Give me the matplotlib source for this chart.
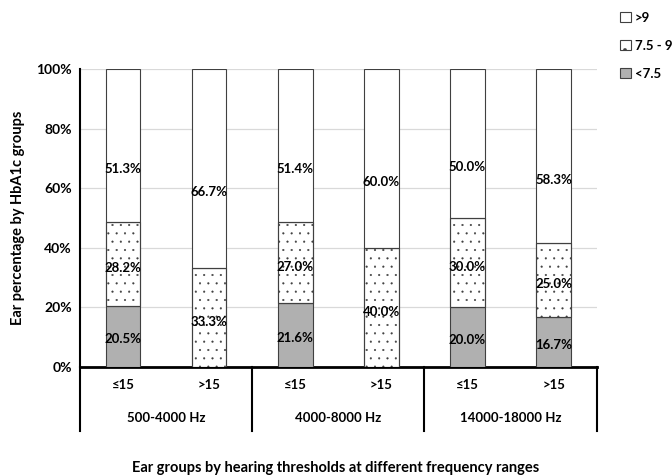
import matplotlib
matplotlib.use("Agg")
import matplotlib.pyplot as plt
from matplotlib.patches import Patch
import numpy as np

plt.rcParams['font.family'] = ['Lato', 'DejaVu Sans']
plt.rcParams['hatch.linewidth'] = 0.3
plt.rcParams['hatch.color'] = '#111111'

groups = ["500-4000 Hz", "4000-8000 Hz", "14000-18000 Hz"]
subcats = ["≤15", ">15", "≤15", ">15", "≤15", ">15"]
low = [20.5, 0.0, 21.6, 0.0, 20.0, 16.7]      # <7.5
mid = [28.2, 33.3, 27.0, 40.0, 30.0, 25.0]    # 7.5 - 9
high = [51.3, 66.7, 51.4, 60.0, 50.0, 58.3]   # >9

fig = plt.figure(figsize=(6.72, 4.75), dpi=100)
ax = fig.add_axes([0.119, 0.2274, 0.769, 0.6273])

x = np.arange(len(subcats))
w = 0.4
low_a = np.array(low); mid_a = np.array(mid); high_a = np.array(high)
edge = '#404040'
ax.bar(x, low_a, w, color='#b0b0b0', edgecolor=edge, linewidth=0.8, zorder=3)
ax.bar(x, mid_a, w, bottom=low_a, color='white', edgecolor=edge, linewidth=0.8, hatch='..', zorder=3)
ax.bar(x, high_a, w, bottom=low_a + mid_a, color='white', edgecolor=edge, linewidth=0.8, zorder=3)
ax.bar(x, mid_a, w, bottom=low_a, fill=False, edgecolor=edge, linewidth=0.8, zorder=4)

for i in range(len(x)):
    if low[i] > 0:
        ax.text(x[i], low[i] / 2 - 1, f"{low[i]:.1f}%", ha='center', va='center', fontsize=9.5, fontweight='bold', zorder=5)
    ax.text(x[i], low[i] + mid[i] / 2 - 1.5, f"{mid[i]:.1f}%", ha='center', va='center', fontsize=9.5, fontweight='bold', zorder=5)
    ax.text(x[i], low[i] + mid[i] + high[i] / 2 - 8, f"{high[i]:.1f}%", ha='center', va='center', fontsize=9.5, fontweight='bold', zorder=5)

ax.set_xlim(-0.5, len(x) - 0.5)
ax.set_ylim(0, 100)
ax.set_yticks(np.arange(0, 101, 20))
ax.set_yticklabels([f"{v}%" for v in range(0, 101, 20)], fontsize=10, fontweight='bold')
ax.yaxis.grid(True, color='#d9d9d9', linewidth=0.9, zorder=0)
ax.set_axisbelow(True)
ax.tick_params(axis='y', length=0, pad=6)
ax.set_xticks([])
for s in ['right', 'top']:
    ax.spines[s].set_visible(False)
ax.spines['left'].set_linewidth(1.5)
ax.spines['left'].set_color('black')
ax.spines['bottom'].set_linewidth(2)
ax.spines['bottom'].set_color('black')

ax.set_ylabel("Ear percentage by HbA1c groups", fontsize=10.5, fontweight='bold', labelpad=8)

trans = ax.get_xaxis_transform()
bottom_y = -0.215
for xv in [-0.5, 1.5, 3.5, 5.5]:
    ax.plot([xv, xv], [0, bottom_y], transform=trans, color='black', linewidth=1.5, clip_on=False)
for i, lab in enumerate(subcats):
    ax.text(x[i], -0.06, lab, transform=trans, ha='center', va='center', fontsize=9.5, fontweight='bold')
for g, lab in enumerate(groups):
    ax.text(2 * g + 0.5, -0.17, lab, transform=trans, ha='center', va='center', fontsize=9.5, fontweight='bold')

fig.text(0.5, 0.015, "Ear groups by hearing thresholds at different frequency ranges",
         ha='center', va='center', fontsize=10.5, fontweight='bold')

handles = [Patch(facecolor='white', edgecolor=edge, linewidth=0.8),
           Patch(facecolor='white', edgecolor=edge, linewidth=0.8, hatch='.'),
           Patch(facecolor='#b0b0b0', edgecolor=edge, linewidth=0.8)]
fig.legend(handles, [">9", "7.5 - 9", "<7.5"], loc='upper left', bbox_to_anchor=(0.905, 1.0),
           frameon=False, handlelength=0.8, handleheight=0.8, handletextpad=0.3,
           labelspacing=1.2, prop={'weight': 'bold', 'size': 9.5})

fig.savefig("out.png", dpi=100)
